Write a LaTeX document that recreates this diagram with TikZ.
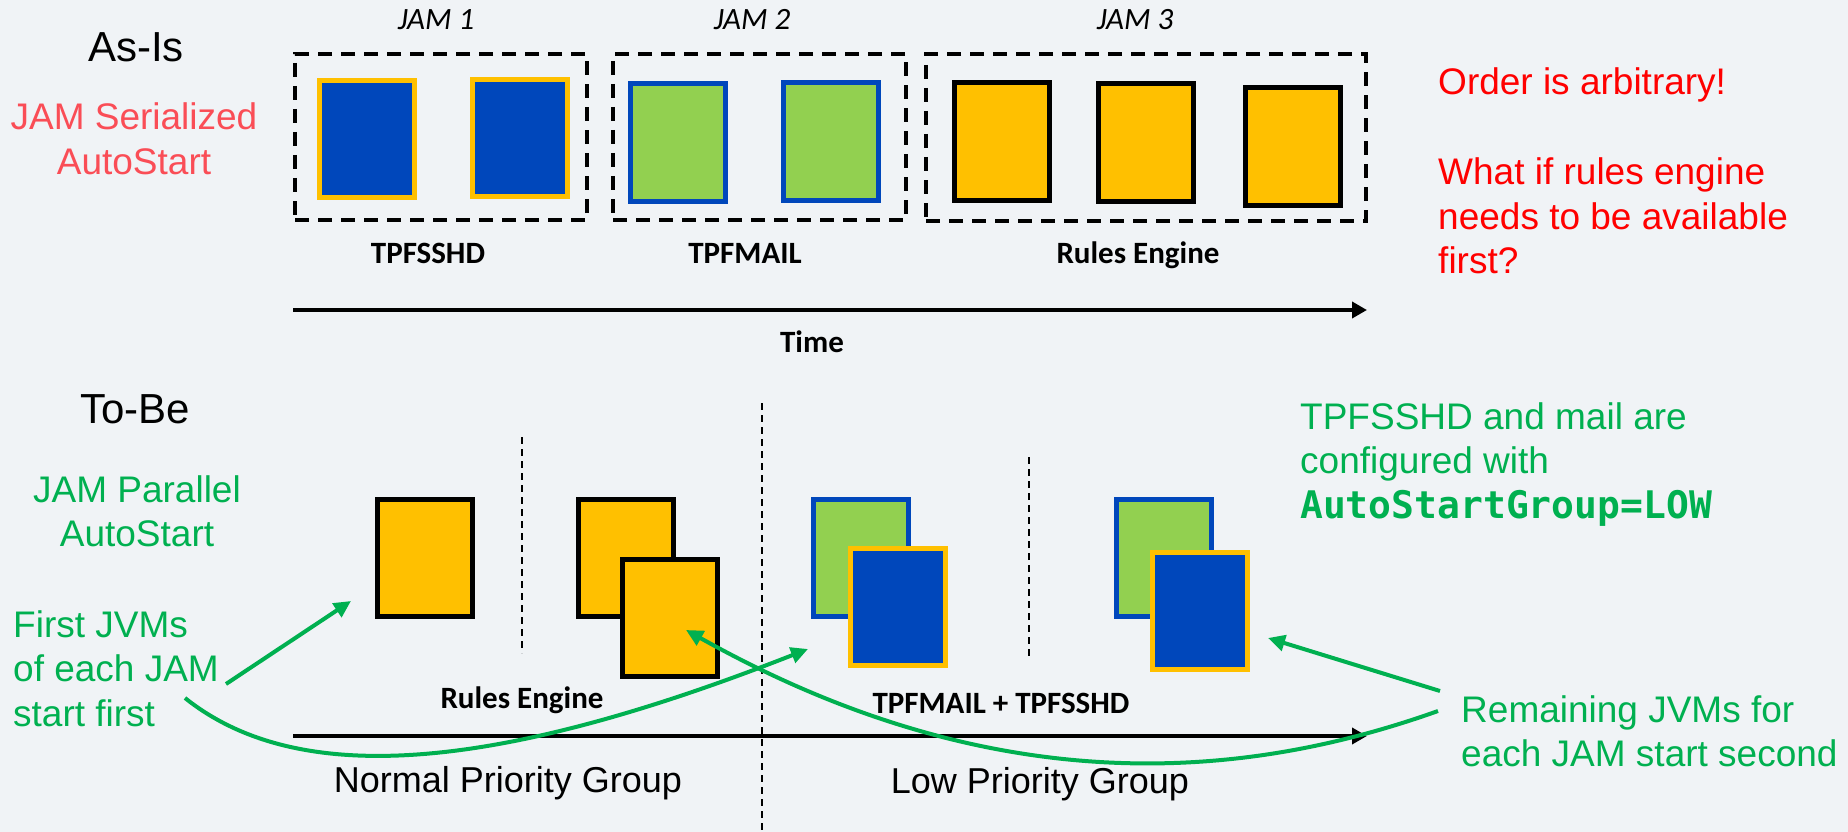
\documentclass[tikz,border=0pt]{standalone}
\usepackage{fontspec}
\setmainfont{Liberation Sans}
\newfontfamily\calibri{Carlito}
\newfontfamily\codefont{DejaVu Sans Mono}
\usetikzlibrary{arrows.meta}

\definecolor{bg}{HTML}{F0F3F6}
\definecolor{ibmblue}{HTML}{0047BB}
\definecolor{amber}{HTML}{FFC000}
\definecolor{lime}{HTML}{92D050}
\definecolor{okgreen}{HTML}{00B050}
\definecolor{softred}{HTML}{FA4D56}
\definecolor{alertred}{HTML}{FF0000}

% stacked lines whose baseline is the first line's baseline
\newcommand\textlines[2][l]{\begin{tabular}[t]{@{}#1@{}}#2\end{tabular}}

\begin{document}
\begin{tikzpicture}[x=1pt,y=-1pt,
  jvm/.style={rectangle, minimum width=95pt, minimum height=117pt,
    line width=5pt, inner sep=0pt},
  sshd/.style={jvm, fill=ibmblue, draw=amber},
  mail/.style={jvm, fill=lime, draw=ibmblue},
  rules/.style={jvm, fill=amber, draw=black},
  jamframe/.style={rectangle, draw=black, line width=4pt,
    dash pattern=on 14pt off 9pt, inner sep=0pt},
  jamlabel/.style={font=\calibri\itshape\fontsize{31}{36}\selectfont,
    anchor=base, inner sep=0pt},
  applabel/.style={font=\calibri\bfseries\fontsize{31}{36}\selectfont,
    anchor=base, inner sep=0pt},
  heading/.style={font=\fontsize{42}{48}\selectfont, anchor=base, inner sep=0pt},
  note/.style={font=\fontsize{37}{44.5}\selectfont, anchor=base west, inner sep=0pt},
  groupname/.style={font=\fontsize{36}{42}\selectfont, anchor=base, inner sep=0pt},
  timeaxis/.style={line width=4pt, -{Triangle[length=15pt,width=16pt]}},
  divider/.style={line width=2pt, dash pattern=on 7pt off 5pt},
  pointer/.style={okgreen, line width=4pt, -{Triangle[length=17pt,width=16pt]}},
]
\useasboundingbox (0,0) rectangle (1848,832);
\fill[bg] (0,0) rectangle (1848,832);

% ---------- As-Is: serialized start ----------
\node[heading] (asis) at (136,62) {As-Is};
\node[note, anchor=base, text=softred] (serial) at (134,130)
  {\textlines[c]{JAM Serialized\\AutoStart}};

\node[jamframe, minimum width=292pt, minimum height=166pt] (jam1) at (441,137) {};
\node[jamframe, minimum width=293pt, minimum height=166pt] (jam2) at (759.5,137) {};
\node[jamframe, minimum width=440pt, minimum height=167pt] (jam3) at (1146,137.5) {};

\node[jamlabel] (jam1l) at (436,30) {JAM 1};
\node[jamlabel] (jam2l) at (752,30) {JAM 2};
\node[jamlabel] (jam3l) at (1135,30) {JAM 3};

\node[sshd] (s1) at (367,139) {};
\node[sshd] (s2) at (519.5,138) {};
\node[mail] (m1) at (677.5,142.5) {};
\node[mail] (m2) at (830.5,141.5) {};
\node[rules] (r1) at (1002,141.5) {};
\node[rules] (r2) at (1145.5,142.5) {};
\node[rules] (r3) at (1292.5,146.5) {};

\node[applabel] (sshdl) at (428,263) {TPFSSHD};
\node[applabel] (maill) at (745,263) {TPFMAIL};
\node[applabel] (rulesl) at (1138,263) {Rules Engine};

\coordinate (ta0) at (293,310);
\coordinate (ta1) at (1367,310);
\draw[timeaxis] (ta0) -- (ta1);
\node[applabel] (time) at (812,352) {Time};

\node[note, text=alertred] (order) at (1438,95) {Order is arbitrary!};
\node[note, text=alertred] (whatif) at (1438,185)
  {\textlines{What if rules engine\\needs to be available\\first?}};

% ---------- To-Be: parallel start ----------
\node[heading] (tobe) at (135,423) {To-Be};
\node[note, anchor=base, text=okgreen] (parallel) at (137,502)
  {\textlines[c]{JAM Parallel\\AutoStart}};

\node[rules] (ra) at (424.5,558) {};
\node[rules] (rb) at (625.5,557.5) {};
\node[rules] (rc) at (669.5,617.5) {};
\node[mail] (ma) at (860.5,558) {};
\node[sshd] (sa) at (897.5,607) {};
\node[mail] (mb) at (1163.5,558) {};
\node[sshd] (sb) at (1199.5,611) {};

\coordinate (d1t) at (522,437);   \coordinate (d1b) at (522,653);
\coordinate (d2t) at (1029,457);  \coordinate (d2b) at (1029,656);
\coordinate (dgt) at (762,403);   \coordinate (dgb) at (762,832);
\draw[divider] (d1t) -- (d1b);
\draw[divider] (d2t) -- (d2b);
\draw[divider] (dgt) -- (dgb);

\node[applabel] (rulesl2) at (522,708) {Rules Engine};
\node[applabel] (lowl) at (1001,713) {TPFMAIL + TPFSSHD};

\coordinate (tb0) at (293,736);
\coordinate (tb1) at (1367,736);
\draw[timeaxis] (tb0) -- (tb1);

\node[groupname] (normal) at (508,792) {Normal Priority Group};
\node[groupname] (low) at (1040,793) {Low Priority Group};

\node[note, text=okgreen] (first) at (13,637)
  {\textlines{First JVMs\\of each JAM\\start first}};
\node[note, text=okgreen] (lowcfg) at (1300,429)
  {\textlines{TPFSSHD and mail are\\configured with\\{\codefont\bfseries\fontsize{38}{44.5}\selectfont AutoStartGroup=LOW}}};
\node[note, text=okgreen] (remain) at (1461,722)
  {\textlines{Remaining JVMs for\\each JAM start second}};

% pointers from the notes to the JVMs
\coordinate (p1s) at (226,684);  \coordinate (p1e) at (351,601);
\coordinate (p2s) at (185,698);  \coordinate (p2e) at (808,649);
\coordinate (p3s) at (1440,691); \coordinate (p3e) at (1268,638);
\coordinate (p4s) at (1438,711); \coordinate (p4e) at (686,630);
\draw[pointer] (p1s) -- (p1e);
\draw[pointer] (p2s) .. controls (300,790) and (500,770) .. (p2e);
\draw[pointer] (p3s) -- (p3e);
\draw[pointer] (p4s) .. controls (1250,778) and (1000,806) .. (p4e);
\end{tikzpicture}
\end{document}
